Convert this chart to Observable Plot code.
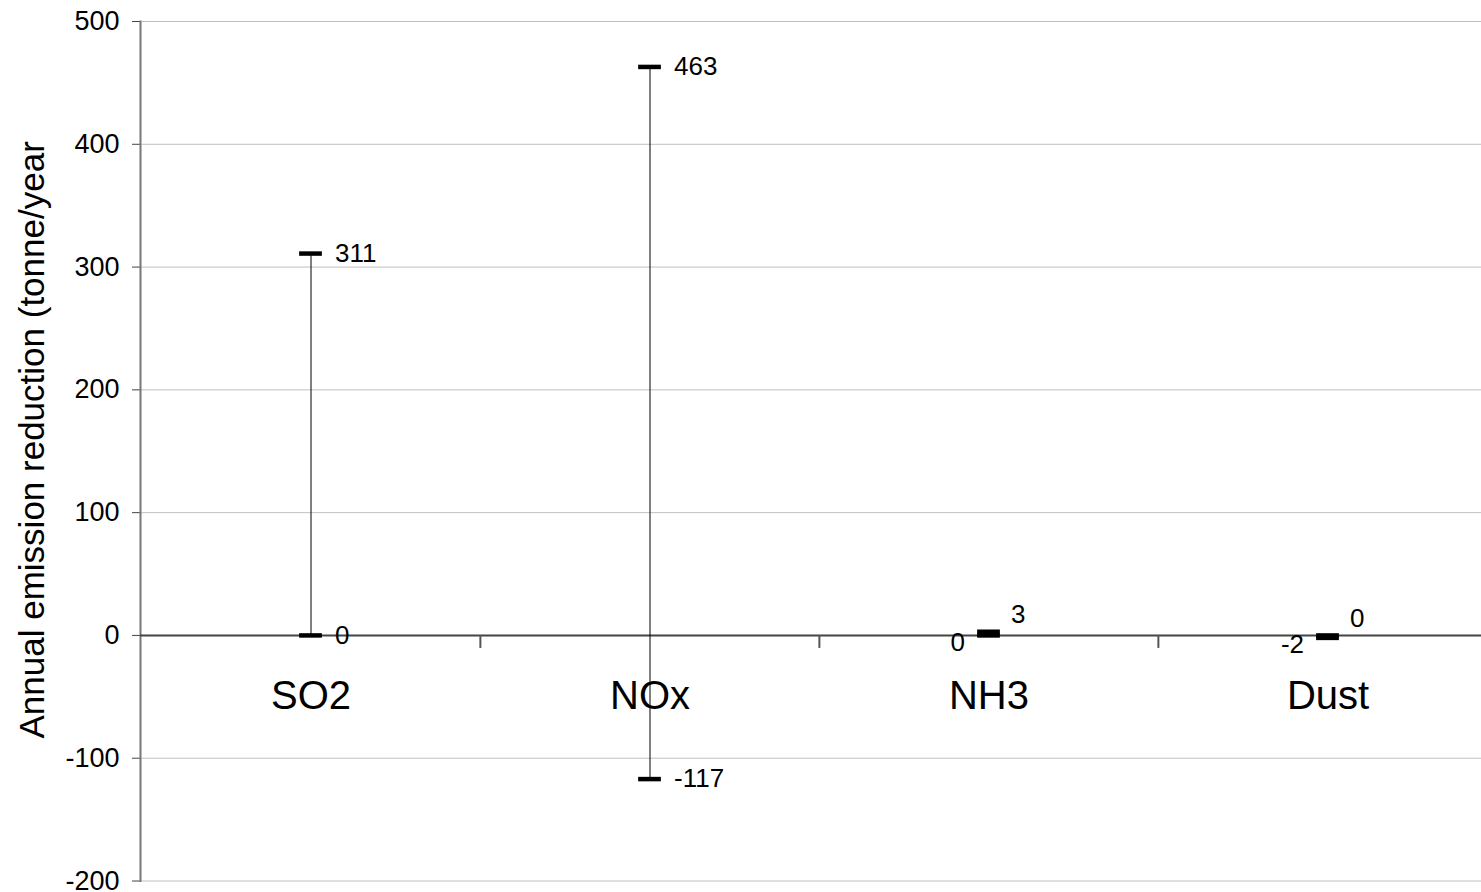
<!DOCTYPE html>
<html>
<head>
<meta charset="utf-8">
<script src="https://cdn.jsdelivr.net/npm/d3@7"></script>
<script src="https://cdn.jsdelivr.net/npm/@observablehq/plot@0.6"></script>
<style>
  html, body { margin: 0; padding: 0; background: #fff; overflow: hidden; }
  #chart { width: 1481px; height: 892px; overflow: hidden; }
  #chart svg { font-family: "Liberation Sans", Arial, sans-serif; max-width: none !important; width: 1497px !important; height: 892px !important; display: block; }
</style>
</head>
<body>
<div id="chart"></div>
<script>
// ---- data ----
const categories = ["SO2", "NOx", "NH3", "Dust"];
const lowValues  = [0, -117, 0, -2];
const highValues = [311, 463, 3, 0];
const yTicks = [-200, -100, 0, 100, 200, 300, 400, 500];
const yTitle = "Annual emission reduction (tonne/year";

// ---- layout ----
const W = 1497, H = 892, mL = 140, mR = 0, mT = 21, mB = 11.5;
const band = (W - mL - mR) / categories.length;
const pxPerUnit = (H - mT - mB) / (500 - (-200));
const markerW = 23;
const markerInset = (band - markerW) / 2;

const rows = categories.map((c, i) => ({cat: c, low: lowValues[i], high: highValues[i]}));
const labels = [];
rows.forEach(r => {
  const tight = Math.abs(r.high - r.low) < 20;
  labels.push({cat: r.cat, v: r.low, anchor: tight ? "end" : "start", dx: tight ? -24 : 24, dy: tight ? 7 : 0});
  labels.push({cat: r.cat, v: r.high, anchor: "start", dx: tight ? 22 : 24, dy: tight ? -17 : 0});
});

const chart = Plot.plot({
  width: W, height: H,
  marginLeft: mL, marginRight: mR, marginTop: mT, marginBottom: mB,
  style: {fontFamily: '"Liberation Sans", Arial, sans-serif', background: "#fff", color: "#000", maxWidth: "none"},
  x: {domain: categories, padding: 0, axis: null},
  y: {domain: [-200, 500], axis: null},
  marks: [
    Plot.gridY(yTicks, {stroke: "#c0c0c0", strokeOpacity: 1, strokeWidth: 1}),
    Plot.axisY(yTicks, {tickSize: 8, tickPadding: 13, fontSize: 27, stroke: "#444", fill: "#000",
      tickFormat: d => String(d), label: null}),
    Plot.frame({anchor: "left", stroke: "#777", strokeWidth: 2}),
    Plot.ruleY([0], {stroke: "#444", strokeWidth: 2}),
    Plot.ruleX(categories.slice(1), {x: d => d, dx: -band / 2, y1: () => 0, y2: () => -200,
      insetBottom: 200 * pxPerUnit - 13, stroke: "#555", strokeWidth: 2}),
    Plot.ruleX(rows, {x: "cat", y1: "low", y2: "high", stroke: "#000", strokeWidth: 1}),
    Plot.tickY(rows, {x: "cat", y: "low", stroke: "#000", strokeWidth: 4.5,
      insetLeft: markerInset, insetRight: markerInset}),
    Plot.tickY(rows, {x: "cat", y: "high", stroke: "#000", strokeWidth: 4.5,
      insetLeft: markerInset, insetRight: markerInset}),
    ...labels.map(l => Plot.text([l], {x: "cat", y: "v", text: d => String(d.v),
      textAnchor: l.anchor, dx: l.dx, dy: l.dy, fontSize: 26, fill: "#000"})),
    Plot.text(categories, {x: d => d, y: () => 0, text: d => d, dy: 61, fontSize: 40, fill: "#000"}),
    Plot.text([yTitle], {text: d => d, frameAnchor: "bottom-left", dx: -97, dy: -142.5,
      rotate: -90, textAnchor: "start", lineAnchor: "bottom", fontSize: 35, fill: "#000"})
  ]
});
document.getElementById("chart").appendChild(chart);
</script>
</body>
</html>
